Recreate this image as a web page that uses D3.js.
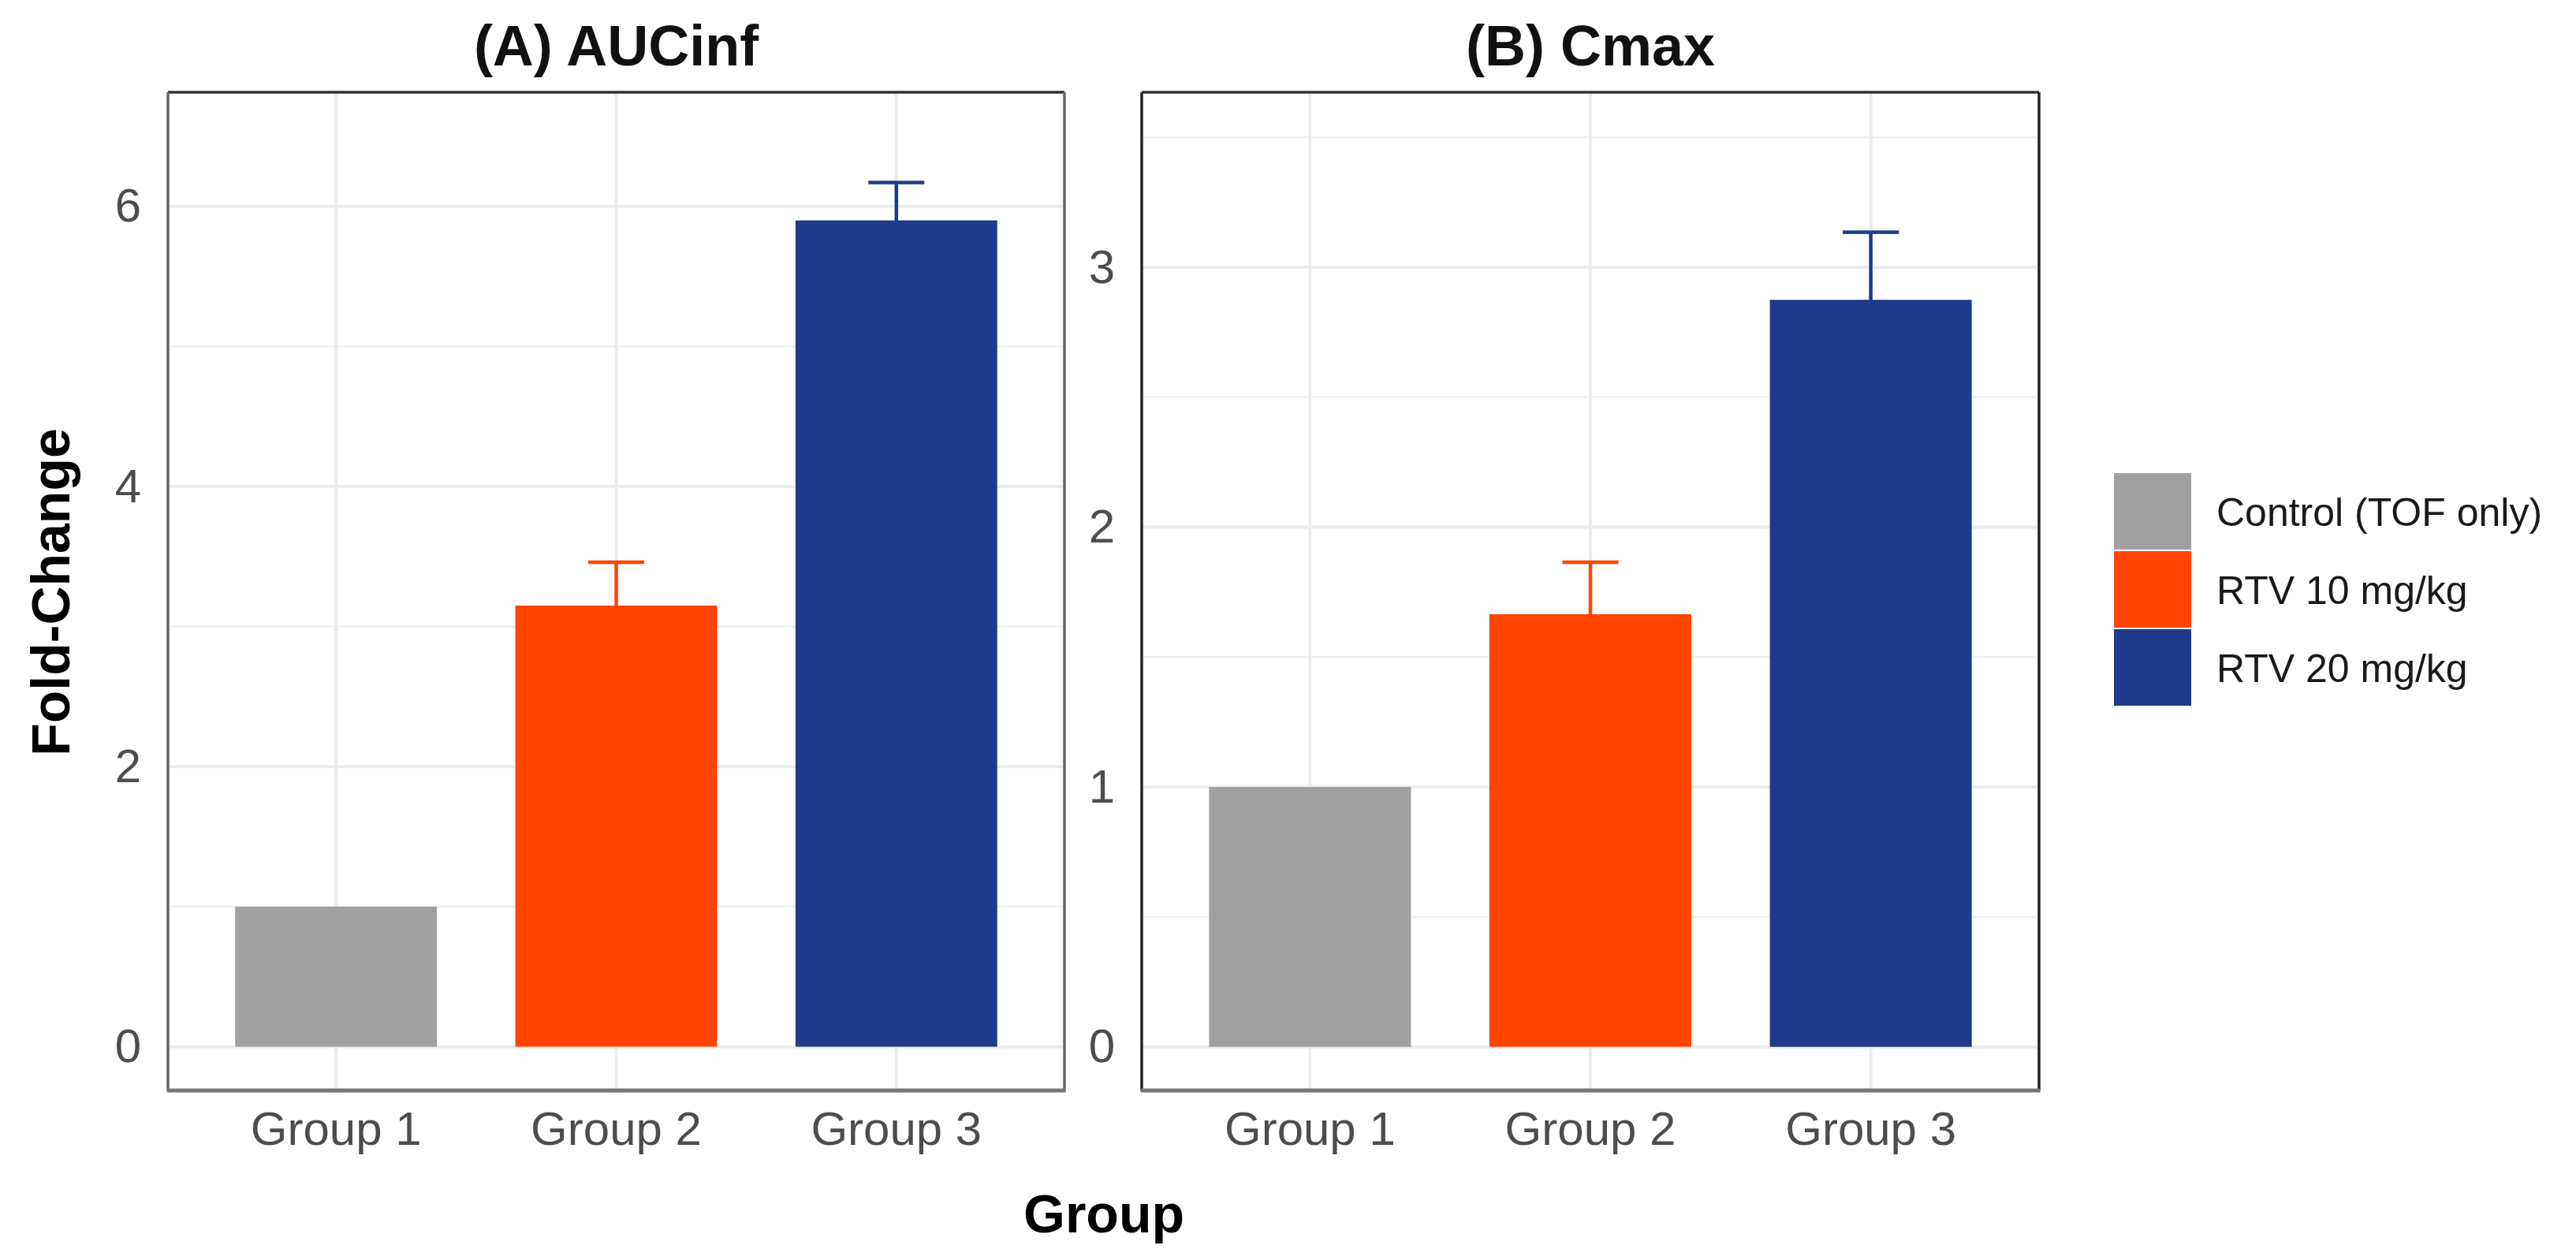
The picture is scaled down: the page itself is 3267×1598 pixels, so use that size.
<!DOCTYPE html>
<html>
<head>
<meta charset="utf-8">
<script src="https://cdn.jsdelivr.net/npm/d3@7"></script>
<style>
  body { margin: 0; background: #fff; }
  text { font-family: "Liberation Sans", Arial, sans-serif; }
</style>
</head>
<body>
<svg id="chart" width="3267" height="1598"></svg>
<script>
// chart values
const groups = ["Group 1", "Group 2", "Group 3"];
const treatments = ["Control (TOF only)", "RTV 10 mg/kg", "RTV 20 mg/kg"];
const aucMean = [1.0, 3.15, 5.90];
const aucSE = [0, 0.31, 0.27];
const cmaxMean = [1.0, 1.665, 2.875];
const cmaxSE = [0, 0.20, 0.26];
const aucTicks = [0, 2, 4, 6];
const aucMinor = [1, 3, 5];
const cmaxTicks = [0, 1, 2, 3];
const cmaxMinor = [0.5, 1.5, 2.5, 3.5];

const colors = ["#a0a0a0", "#ff4500", "#1e3a8a"];

const svg = d3.select('#chart');
const plotTop = 117, plotBottom = 1383;

const color = d3.scaleOrdinal().domain(treatments).range(colors);

const drawPanel = (opt) => {
    const g = svg.append('g');
    const x = d3.scaleBand().domain(groups)
        .range([opt.left, opt.right]).paddingInner(0).paddingOuter(0.1);
    const y = d3.scaleLinear().domain(opt.domain).range([plotBottom, plotTop]);
    const step = x.step();

    // minor grid
    g.selectAll('.minor').data(opt.minor).enter().append('line')
        .attr('x1', opt.left).attr('x2', opt.right)
        .attr('y1', d => y(d)).attr('y2', d => y(d))
        .attr('stroke', '#f0f0f0').attr('stroke-width', 2.5);
    // major grid
    g.selectAll('.major').data(opt.ticks).enter().append('line')
        .attr('x1', opt.left).attr('x2', opt.right)
        .attr('y1', d => y(d)).attr('y2', d => y(d))
        .attr('stroke', '#ebebeb').attr('stroke-width', 4);
    g.selectAll('.vgrid').data(groups).enter().append('line')
        .attr('x1', d => x(d) + x.bandwidth() / 2).attr('x2', d => x(d) + x.bandwidth() / 2)
        .attr('y1', plotTop).attr('y2', plotBottom)
        .attr('stroke', '#ebebeb').attr('stroke-width', 4);

    const rows = groups.map((grp, i) => ({
        grp: grp, trt: treatments[i], mean: opt.mean[i], se: opt.se[i]
    }));

    // error bars (drawn under the bars, only the upper part shows)
    const eb = g.selectAll('.eb').data(rows.filter(d => d.se > 0)).enter().append('g');
    eb.append('line')
        .attr('x1', d => x(d.grp) + step / 2).attr('x2', d => x(d.grp) + step / 2)
        .attr('y1', d => y(d.mean - d.se)).attr('y2', d => y(d.mean + d.se))
        .attr('stroke', d => color(d.trt)).attr('stroke-width', 4.5);
    eb.append('line')
        .attr('x1', d => x(d.grp) + step / 2 - step * 0.1)
        .attr('x2', d => x(d.grp) + step / 2 + step * 0.1)
        .attr('y1', d => y(d.mean + d.se)).attr('y2', d => y(d.mean + d.se))
        .attr('stroke', d => color(d.trt)).attr('stroke-width', 4.5);

    const bw = step * 0.72;
    g.selectAll('.bar').data(rows).enter().append('rect')
        .attr('x', d => x(d.grp) + step / 2 - bw / 2)
        .attr('width', bw)
        .attr('y', d => y(d.mean))
        .attr('height', d => y(0) - y(d.mean))
        .attr('fill', d => color(d.trt));

    // panel border
    g.append('line').attr('x1', opt.left).attr('x2', opt.right).attr('y1', plotTop).attr('y2', plotTop)
        .attr('stroke', '#333').attr('stroke-width', 3.5);
    g.append('line').attr('x1', opt.left).attr('x2', opt.left).attr('y1', plotTop).attr('y2', plotBottom)
        .attr('stroke', opt.side).attr('stroke-width', 3.5);
    g.append('line').attr('x1', opt.right).attr('x2', opt.right).attr('y1', plotTop).attr('y2', plotBottom)
        .attr('stroke', opt.side).attr('stroke-width', 3.5);
    g.append('line').attr('x1', opt.left - 1.5).attr('x2', opt.right + 1.5).attr('y1', plotBottom).attr('y2', plotBottom)
        .attr('stroke', '#777').attr('stroke-width', 5);

    // y tick labels
    const ya = g.append('g').attr('transform', `translate(${opt.left},0)`)
        .call(d3.axisLeft(y).tickValues(opt.ticks).tickSize(0).tickPadding(34).tickFormat(d3.format('d')));
    ya.select('.domain').remove();
    ya.selectAll('text').attr('font-size', 60).attr('fill', '#4d4d4d')
        .attr('font-family', '"Liberation Sans", Arial, sans-serif');

    // x tick labels
    const xa = g.append('g').attr('transform', `translate(0,${plotBottom})`)
        .call(d3.axisBottom(x).tickSize(0).tickPadding(0));
    xa.select('.domain').remove();
    xa.selectAll('text').attr('font-size', 60).attr('fill', '#4d4d4d')
        .attr('dy', null).attr('y', 69)
        .attr('font-family', '"Liberation Sans", Arial, sans-serif');

    // panel title
    g.append('text').attr('x', (opt.left + opt.right) / 2).attr('y', 83)
        .attr('text-anchor', 'middle').attr('font-size', 72).attr('font-weight', 'bold')
        .attr('fill', '#111').text(opt.title);
};

drawPanel({ left: 213, right: 1350, domain: [-0.3125, 6.815], mean: aucMean, se: aucSE,
    ticks: aucTicks, minor: aucMinor, title: '(A) AUCinf', side: '#666' });
drawPanel({ left: 1448, right: 2586, domain: [-0.168, 3.674], mean: cmaxMean, se: cmaxSE,
    ticks: cmaxTicks, minor: cmaxMinor, title: '(B) Cmax', side: '#222' });

// axis titles
svg.append('text').attr('transform', 'translate(88,751) rotate(-90)')
    .attr('text-anchor', 'middle').attr('font-size', 68).attr('font-weight', 'bold')
    .attr('fill', '#000').text('Fold-Change');
svg.append('text').attr('x', 1400).attr('y', 1563)
    .attr('text-anchor', 'middle').attr('font-size', 68).attr('font-weight', 'bold')
    .attr('fill', '#000').text('Group');

// legend
const legend = svg.append('g').attr('transform', 'translate(2681,600)');
const item = legend.selectAll('.item').data(treatments).enter().append('g')
    .attr('transform', (d, i) => `translate(0,${i * 99})`);
item.append('rect').attr('width', 98).attr('height', 97).attr('fill', d => color(d));
item.append('text').attr('x', 130).attr('y', 49).attr('dy', '0.35em')
    .attr('font-size', 50).attr('fill', '#1a1a1a').text(d => d);
</script>
</body>
</html>
